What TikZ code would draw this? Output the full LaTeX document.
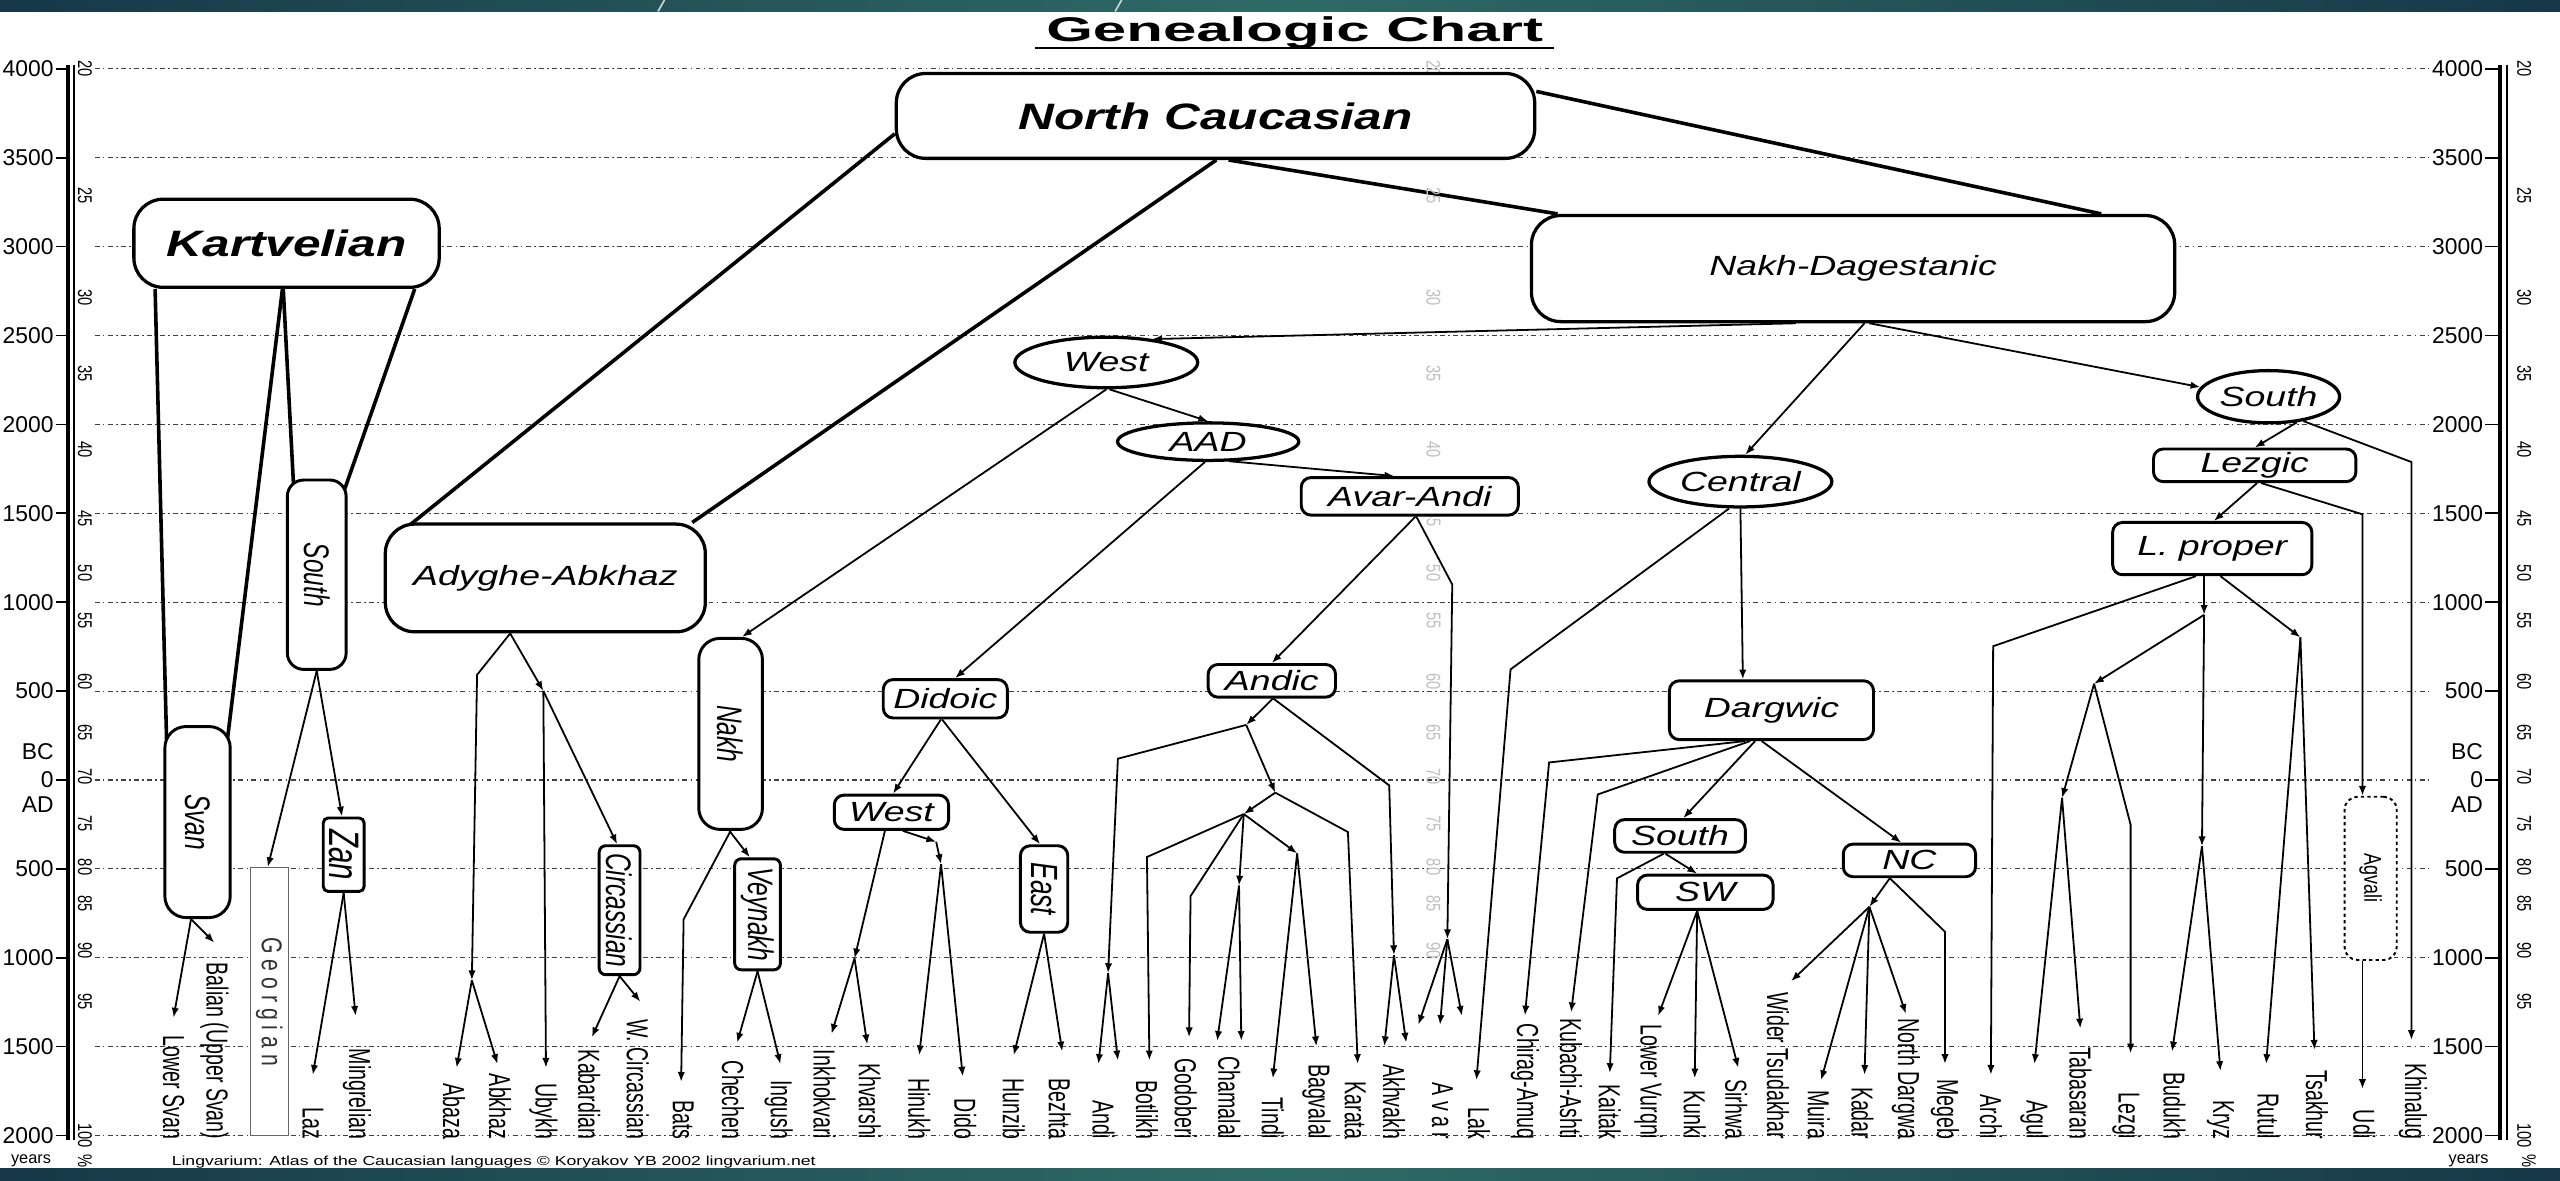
\documentclass[tikz,border=0pt]{standalone}
\usepackage{fontspec}
\usepackage{graphicx}
\setmainfont{Liberation Sans}
\newfontfamily\stf[FakeStretch=1.35]{Liberation Sans}
\newfontfamily\ttlf[FakeStretch=1.75]{Liberation Sans}
\usetikzlibrary{arrows.meta,calc,shapes.geometric}
\definecolor{barA}{HTML}{163848}
\definecolor{barB}{HTML}{2F6B66}
\newcommand{\myvt}[2]{\rotatebox{-90}{\scalebox{1}[1.45]{\itshape\fontsize{#1}{#1}\selectfont #2}}}
\newcommand{\mylbl}[1]{\rotatebox{-90}{\scalebox{1}[1.55]{\fontsize{12}{12}\selectfont #1}}}
\newcommand{\mypct}[1]{\rotatebox{-90}{\scalebox{1}[1.35]{\fontsize{9}{9}\selectfont #1}}}
\pgfdeclarelayer{backlayer}
\pgfdeclarelayer{gridlayer}
\pgfdeclarelayer{linklayer}
\pgfsetlayers{backlayer,gridlayer,linklayer,main}
\tikzset{
 bigbox/.style={draw, fill=white, line width=2pt, rounded corners=18pt, font=\stf\bfseries\itshape\fontsize{22.5}{26}\selectfont, inner sep=0pt},
 fambox/.style={draw, fill=white, line width=2pt, rounded corners=18pt, font=\stf\itshape\fontsize{17}{20}\selectfont, inner sep=0pt},
 grp/.style={draw, fill=white, line width=1.8pt, rounded corners=6pt, font=\stf\itshape\fontsize{17}{20}\selectfont, inner sep=0pt},
 grpell/.style={draw, fill=white, ellipse, line width=2pt, font=\stf\itshape\fontsize{17}{20}\selectfont, inner sep=0pt},
 vbox/.style={draw, fill=white, line width=1.8pt, rounded corners=12pt, inner sep=0pt},
 leaf/.style={anchor=south, inner sep=0pt},
 thicklink/.style={line width=2.2pt},
 arr/.style={line width=1.1pt, -{Latex[length=6pt,width=4.5pt]}},
 gridline/.style={line width=0.7pt, black!75, dash pattern=on 3pt off 2pt on 1pt off 2pt},
 axnum/.style={inner sep=0pt, font=\fontsize{14}{14}\selectfont},
}
\begin{document}
\begin{tikzpicture}[x=1pt,y=-1pt]
\useasboundingbox (0,0) rectangle (1568,723);
\begin{pgfonlayer}{backlayer}
\fill[white] (0,0) rectangle (1568,723);
\shade[left color=barA, right color=barA, middle color=barB] (0,0) rectangle (1568,7);
\shade[left color=barA, right color=barA, middle color=barB] (0,716) rectangle (1568,723);
\draw[white!75!barB, line width=1pt] (403,7) -- (407,0);
\draw[white!75!barB, line width=1pt] (683,7) -- (687,0);
\end{pgfonlayer}
% title
\node[anchor=base, inner sep=0pt, font=\ttlf\bfseries\fontsize{21}{24}\selectfont] (title) at (793,25.5) {Genealogic Chart};
\draw[line width=1.3pt] (634,29.5) -- (952,29.5);

% grid and axes
\begin{pgfonlayer}{gridlayer}
\foreach \k in {0,...,12} {
  \draw[gridline] (58,{42.2+54.44*\k}) -- (1488,{42.2+54.44*\k});
  \draw[line width=1pt] (34,{42.2+54.44*\k}) -- (41,{42.2+54.44*\k});
  \draw[line width=1pt] (1522,{42.2+54.44*\k}) -- (1531,{42.2+54.44*\k});
}
\end{pgfonlayer}
\foreach \lab [count=\k from 0] in {4000,3500,3000,2500,2000,1500,1000,500,0,500,1000,1500,2000} {
  \node[axnum, anchor=east] at (33,{42.2+54.44*\k}) {\lab};
  \node[axnum, anchor=east] at (1521,{42.2+54.44*\k}) {\lab};
}
\node[axnum, anchor=east] at (33,460.5) {BC};
\node[axnum, anchor=east] at (33,493) {AD};
\node[axnum, anchor=east] at (1521,460.5) {BC};
\node[axnum, anchor=east] at (1521,493) {AD};
\draw[line width=2.5pt] (41.5,40) -- (41.5,698);
\draw[line width=1.2pt] (45.5,40) -- (45.5,698);
\draw[line width=2.5pt] (1531.5,40) -- (1531.5,698);
\draw[line width=1.2pt] (1535.5,40) -- (1535.5,698);
\foreach \p/\yy in {20/42.2,25/120,30/182.2,35/228.9,40/275.5,45/317.7,50/351,55/380,60/417.7,65/448.8,70/475.5,75/504.4,80/531.1,85/553.3,90/582.2,95/613.3,100/695.5} {
  \node[inner sep=0pt] at (52,\yy) {\mypct{\p}};
  \node[inner sep=0pt] at (1546,\yy) {\mypct{\p}};
}
\foreach \p/\yy in {20/42.2,25/120,30/182.2,35/228.9,40/275.5,45/317.7,50/351,55/380,60/417.7,65/448.8,70/475.5,75/504.4,80/531.1,85/553.3,90/582.2} {
  \node[inner sep=0pt, text=black!25] at (878,\yy) {\mypct{\p}};
}
\node[inner sep=0pt, font=\fontsize{10}{10}\selectfont] at (19,711) {years};
\node[inner sep=0pt, font=\fontsize{10}{10}\selectfont] at (1512,711) {years};
\node[inner sep=0pt] at (52,711) {\mypct{\%}};
\node[inner sep=0pt] at (1549,711) {\mypct{\%}};
\node[anchor=base west, inner sep=0pt, font=\stf\fontsize{8}{9}\selectfont] (footer) at (105,714) {Lingvarium: Atlas of the Caucasian languages \textcopyright{} Koryakov YB 2002 lingvarium.net};

% family boxes
\node[bigbox, minimum width=391pt, minimum height=52pt] (nc) at (744.5,71) {North Caucasian};
\node[bigbox, minimum width=187pt, minimum height=54pt] (kart) at (175.5,149) {Kartvelian};
\node[fambox, minimum width=394pt, minimum height=65pt] (nd) at (1135,164.5) {Nakh-Dagestanic};
\node[fambox, minimum width=196pt, minimum height=66pt] (aa) at (334,354) {Adyghe-Abkhaz};
\node[grpell, minimum width=112pt, minimum height=31pt] (west) at (677.6,222) {West};
\node[grpell, minimum width=111pt, minimum height=23pt] (aad) at (740,270.5) {AAD};
\node[grp, minimum width=133pt, minimum height=23pt] (avarandi) at (863.5,304) {Avar-Andi};
\node[grp, minimum width=76pt, minimum height=23.5pt] (didoic) at (579,428) {Didoic};
\node[grp, minimum width=78pt, minimum height=20pt] (andic) at (779,417) {Andic};
\node[grpell, minimum width=112pt, minimum height=31pt] (central) at (1066,295) {Central};
\node[grpell, minimum width=87pt, minimum height=32pt] (south) at (1389.5,243) {South};
\node[grp, minimum width=124pt, minimum height=20pt] (lezgic) at (1381,285) {Lezgic};
\node[grp, minimum width=122pt, minimum height=32pt] (lproper) at (1355,336) {L. proper};
\node[grp, minimum width=125pt, minimum height=36pt] (dargwic) at (1085,435) {Dargwic};
\node[grp, minimum width=80pt, minimum height=20pt] (southtwo) at (1029,512) {South};
\node[grp, minimum width=83pt, minimum height=21pt] (sw) at (1044.5,546.5) {SW};
\node[grp, minimum width=81pt, minimum height=20pt] (nctwo) at (1169.5,527) {NC};
\node[grp, minimum width=70pt, minimum height=21pt] (westtwo) at (546,497.5) {West};
% vertical boxes
\node[vbox, minimum width=40pt, minimum height=117pt, rounded corners=13pt] (svan) at (121,503.5) {\myvt{15}{Svan}};
\node[vbox, minimum width=36pt, minimum height=116pt, rounded corners=10pt] (ksouth) at (194,352) {\myvt{15}{South}};
\node[draw=black!60, fill=white, line width=0.8pt, minimum width=23.5pt, minimum height=164pt, inner sep=0pt] (georgian) at (165,613.5) {\rotatebox{-90}{\scalebox{1}[1.35]{\fontsize{13}{13}\selectfont\color{black!80}G e o r g i a n}}};
\node[vbox, rounded corners=3pt, minimum width=25pt, minimum height=45pt] (zan) at (210.5,523.5) {\myvt{18}{Zan}};
\node[vbox, rounded corners=4pt, minimum width=25pt, minimum height=79pt] (circ) at (379.5,557.5) {\myvt{15}{Circassian}};
\node[vbox, minimum width=39pt, minimum height=117pt, rounded corners=13pt] (nakh) at (447.5,449.5) {\myvt{15}{Nakh}};
\node[vbox, rounded corners=4pt, minimum width=28pt, minimum height=68pt] (veynakh) at (464,560) {\myvt{15}{Veynakh}};
\node[vbox, rounded corners=6pt, minimum width=29pt, minimum height=53pt] (east) at (639.5,544.5) {\myvt{16}{East}};
\node[vbox, line width=1.2pt, dash pattern=on 2pt off 2pt, rounded corners=8pt, minimum width=32pt, minimum height=100pt] (agvali) at (1452,538) {\rotatebox{-90}{\scalebox{1}[1.35]{\fontsize{11}{11}\selectfont Agvali}}};

% leaf labels
\foreach \nm/\xx/\tx in {lowersvan/106.3/Lower Svan, balian/131.3/Balian (Upper Svan), laz/191.6/Laz, mingrelian/218.7/Mingrelian, abaza/278.1/Abaza, abkhaz/306.2/Abkhaz, ubykh/332.8/Ubykh, kabardian/360.9/Kabardian, wcirc/390.6/W. Circassian, bats/418.5/Bats, chechen/449/Chechen, ingush/477/Ingush, inkhokvari/505/Inkhokvari, khvarshi/532.7/Khvarshi, hinukh/563/Hinukh, dido/591.2/Dido, hunzib/620.9/Hunzib, bezhta/649/Bezhta, andi/675.8/Andi, botlikh/702.5/Botlikh, godoberi/726.2/Godoberi, chamalal/752.9/Chamalal, tindi/779.6/Tindi, bagvalal/806.3/Bagvalal, karata/830.1/Karata, akhvakh/853.8/Akhvakh, avar/883.5/A v a r, lak/905.8/Lak, chirag/934/Chirag-Amuq, kubachi/962.2/Kubachi-Ashti, kaitak/985.9/Kaitak, lowervurqni/1009.7/Lower Vurqni, kunki/1038/Kunki, sirhwa/1063.4/Sirhwa, wider/1089/Wider Tsudakhar, muira/1114/Muira, kadar/1140.7/Kadar, northdargwa/1167.4/North Dargwa, megeb/1191.3/Megeb, archi/1219.4/Archi, agul/1246.1/Agul, tabasaran/1274.2/Tabasaran, lezgi/1302.4/Lezgi, budukh/1331.9/Budukh, kryz/1360/Kryz, rutul/1389.5/Rutul, tsakhur/1419.1/Tsakhur, udi/1448/Udi, khinalug/1478/Khinalug} {
  \node[leaf] (\nm) at (\xx,698) {\mylbl{\tx}};
}

% tips and junctions
\foreach \nm/\xx/\yy in {lowersvan/106.3/623.3, balian/131.3/577.4, laz/191.6/658.3, mingrelian/217.8/622.2, abaza/279.7/654, abkhaz/304.7/651.7, ubykh/334.4/654, kabardian/362.5/635.3, wcirc/392.2/613.5, bats/417.2/662.6, chechen/451.5/638.6, ingush/478/651.7, inkhokvari/509.3/633.2, khvarshi/531.2/639.7, hinukh/563/646.3, dido/589.7/659.4, hunzib/620.9/646.3, bezhta/650.6/644, andia/672.8/651.7, andib/684.7/649.5, botlikh/704/649.5, godoberi/728.3/635.3, chamalala/745.5/637.5, chamalalb/760.3/637.5, tindi/779.6/660.5, bagvalal/806.3/640.8, karata/831.6/651.7, akhvakha/847.9/640.8, akhvakhb/861.3/638.6, avara/868.7/627.7, avarb/882/627.7, avarc/895.4/622.2, lak/904.3/661.6, chirag/934/622, kubachi/962.3/620, kaitak/986/657.2, lowervurqni/1015.6/622.2, kunki/1038/660.5, sirhwa/1064.7/654, wider/1097/601, muira/1115.4/661.6, kadar/1142/658.3, northdargwa/1167.4/621, megeb/1191.3/651.7, archi/1219.4/658.3, agul/1246.1/651.7, tabasaran/1274.2/629.9, lezgi/1305/645.2, budukh/1330.4/644, kryz/1360/656, rutul/1388/651.7, tsakhur/1417.6/643, udi/1447/667, khinalug/1477/637} {
  \coordinate (t-\nm) at (\xx,\yy);
}
\coordinate (jab) at (289,600.4);
\coordinate (abbend) at (292.2,413.3);
\coordinate (jub) at (332.8,423.2);
\coordinate (batsbend) at (418.7,563.1);
\coordinate (jk) at (523.4,587);
\coordinate (jhone) at (573.4,515.6);
\coordinate (jhtwo) at (576.4,529.3);
\coordinate (jone) at (763.3,444);
\coordinate (akbend) at (850.9,481.1);
\coordinate (jak) at (853.8,585);
\coordinate (anbend) at (684.7,464.7);
\coordinate (jan) at (678.7,596);
\coordinate (jtwo) at (781.1,485.5);
\coordinate (karbend) at (825.6,509.6);
\coordinate (jthree) at (761.8,498.6);
\coordinate (botbend) at (702.5,524.9);
\coordinate (godbend) at (729.2,548.9);
\coordinate (jch) at (758.9,542.4);
\coordinate (jtb) at (794.5,522.7);
\coordinate (avbend) at (889.5,358);
\coordinate (javar) at (886.5,575.2);
\coordinate (lakbend) at (925.2,410);
\coordinate (chbend) at (948.8,467);
\coordinate (kubend) at (978.6,486.6);
\coordinate (kaibend) at (990.4,538);
\coordinate (jf) at (1145,555.4);
\coordinate (megbend) at (1191.3,570.7);
\coordinate (archbend) at (1220.8,395.8);
\coordinate (ja) at (1350,376.6);
\coordinate (jb) at (1282.6,418.8);
\coordinate (jc) at (1348.7,518.3);
\coordinate (jd) at (1263,488.7);
\coordinate (lezbend) at (1305,505.2);
\coordinate (je) at (1409,390.4);
\coordinate (khbend) at (1477,283);
\coordinate (agbend) at (1447,315);

\begin{pgfonlayer}{linklayer}
% Kartvelian
\draw[thicklink] ($(kart.south west)+(14,0)$) -- ($(svan.north west)+(2,12)$);
\draw[thicklink] ($(kart.south)+(-2.5,0)$) -- ($(svan.north east)+(-3,12)$);
\draw[thicklink] ($(kart.south)+(-2,0)$) -- ($(ksouth.north west)+(5,10)$);
\draw[thicklink] ($(kart.south east)+(-16,0)$) -- ($(ksouth.north east)+(-3,10)$);
\draw[arr] ($(svan.south)+(-4,0)$) -- (t-lowersvan);
\draw[arr] ($(svan.south)+(-4,0)$) -- (t-balian);
\draw[arr] (ksouth.south) -- ($(georgian.north)+(-1,0)$);
\draw[arr] (ksouth.south) -- ($(zan.north)+(-1,0)$);
\draw[arr] (zan.south) -- (t-laz);
\draw[arr] (zan.south) -- (t-mingrelian);
% North Caucasian
\draw[thicklink] ($(nc.west)+(0,11)$) -- ($(aa.north west)+(13,4)$);
\draw[thicklink] ($(nc.south)+(0.5,0)$) -- ($(aa.north east)+(-9,0)$);
\draw[thicklink] ($(nc.south)+(8,0)$) -- ($(nd.north west)+(17,0)$);
\draw[thicklink] ($(nc.east)+(0,-15)$) -- ($(nd.north east)+(-46,0)$);
% Adyghe-Abkhaz
\draw[arr] ($(aa.south)+(-21.5,0)$) -- (abbend) -- (jab);
\draw[arr] ($(aa.south)+(-21.5,0)$) -- (jub);
\draw[arr] (jab) -- (t-abaza);
\draw[arr] (jab) -- (t-abkhaz);
\draw[arr] (jub) -- (t-ubykh);
\draw[arr] (jub) -- ($(circ.north)+(-1.5,0)$);
\draw[arr] (circ.south) -- (t-kabardian);
\draw[arr] (circ.south) -- (t-wcirc);
% Nakh-Dagestanic
\draw[arr] ($(nd.south)+(-35,0)$) -- ($(west.north)+(28,2.2)$);
\draw[arr] ($(nd.south)+(7,0)$) -- ($(central.north)+(3,0)$);
\draw[arr] ($(nd.south)+(10,0)$) -- (south.172);
% West
\draw[arr] ($(west.south)+(2,0)$) -- (aad.north);
\draw[arr] (west.south) -- ($(nakh.north)+(7,0)$);
\draw[arr] ($(nakh.south)+(-0.7,0)$) -- ($(veynakh.north)+(-4.7,0)$);
\draw[arr] (nakh.south) -- (batsbend) -- (t-bats);
\draw[arr] (veynakh.south) -- (t-chechen);
\draw[arr] (veynakh.south) -- (t-ingush);
\draw[arr] ($(aad.south)+(13,-0.5)$) -- ($(avarandi.north)+(-9.5,0)$);
\draw[arr] ($(aad.south)+(-2,0)$) -- ($(didoic.north)+(6,0)$);
% Didoic
\draw[arr] ($(didoic.south)+(-2.7,0)$) -- ($(westtwo.north)+(1,0)$);
\draw[arr] ($(didoic.south)+(-2,0)$) -- ($(east.north)+(-2.5,0)$);
\draw[arr] ($(westtwo.south)+(-4,0)$) -- (jk);
\draw[arr] (jk) -- (t-inkhokvari);
\draw[arr] (jk) -- (t-khvarshi);
\draw[arr] ($(westtwo.south)+(7,0)$) -- (jhone);
\draw[arr] (jhone) -- (jhtwo);
\draw[arr] (jhtwo) -- (t-hinukh);
\draw[arr] (jhtwo) -- (t-dido);
\draw[arr] (east.south) -- (t-hunzib);
\draw[arr] (east.south) -- (t-bezhta);
% Avar-Andi
\draw[arr] ($(avarandi.south)+(3.5,0)$) -- (andic.north);
\draw[arr] ($(avarandi.south)+(4,0)$) -- (avbend) -- (javar);
\draw[arr] (javar) -- (t-avara);
\draw[arr] (javar) -- (t-avarb);
\draw[arr] (javar) -- (t-avarc);
% Andic
\draw[arr] ($(andic.south)+(0.6,0)$) -- (jone);
\draw[arr] ($(andic.south)+(1,0)$) -- (akbend) -- (jak);
\draw[arr] (jak) -- (t-akhvakha);
\draw[arr] (jak) -- (t-akhvakhb);
\draw[arr] (jone) -- (anbend) -- (jan);
\draw[arr] (jan) -- (t-andia);
\draw[arr] (jan) -- (t-andib);
\draw[arr] (jone) -- (jtwo);
\draw[arr] (jtwo) -- (karbend) -- (t-karata);
\draw[arr] (jtwo) -- (jthree);
\draw[arr] (jthree) -- (botbend) -- (t-botlikh);
\draw[arr] (jthree) -- (godbend) -- (t-godoberi);
\draw[arr] (jthree) -- (jch);
\draw[arr] (jch) -- (t-chamalala);
\draw[arr] (jch) -- (t-chamalalb);
\draw[arr] (jthree) -- (jtb);
\draw[arr] (jtb) -- (t-tindi);
\draw[arr] (jtb) -- (t-bagvalal);
% Central
\draw[arr] ($(central.south)+(-7,0)$) -- (lakbend) -- (t-lak);
\draw[arr] (central.south) -- ($(dargwic.north)+(-17.5,0)$);
\draw[arr] ($(dargwic.south)+(-16,0)$) -- (chbend) -- (t-chirag);
\draw[arr] ($(dargwic.south)+(-13,0)$) -- (kubend) -- (t-kubachi);
\draw[arr] ($(dargwic.south)+(-10,0)$) -- ($(southtwo.north)+(2,0)$);
\draw[arr] ($(dargwic.south)+(-6,0)$) -- ($(nctwo.north)+(-5,0)$);
\draw[arr] ($(southtwo.south)+(-9,0)$) -- ($(sw.north)+(-5,0)$);
\draw[arr] ($(southtwo.south)+(-10,0)$) -- (kaibend) -- (t-kaitak);
\draw[arr] ($(sw.south)+(-5,0)$) -- (t-lowervurqni);
\draw[arr] ($(sw.south)+(-5,0)$) -- (t-kunki);
\draw[arr] ($(sw.south)+(-5,0)$) -- (t-sirhwa);
\draw[arr] ($(nctwo.south)+(-12,0)$) -- (jf);
\draw[arr] ($(nctwo.south)+(-12,0)$) -- (megbend) -- (t-megeb);
\draw[arr] (jf) -- (t-wider);
\draw[arr] (jf) -- (t-muira);
\draw[arr] (jf) -- (t-kadar);
\draw[arr] (jf) -- (t-northdargwa);
% South
\draw[arr] (south.-42) -- (lezgic.north);
\draw[arr] (south.-35) -- (khbend) -- (t-khinalug);
\draw[arr] ($(lezgic.south)+(1.4,0)$) -- ($(lproper.north)+(1,0)$);
\draw[arr] ($(lezgic.south)+(4,0)$) -- (agbend) -- ($(agvali.north)+(-5,0)$);
\draw[arr] ($(agvali.south)+(-5,0)$) -- (t-udi);
\draw[arr] ($(lproper.south)+(-5,0)$) -- (ja);
\draw[arr] ($(lproper.south)+(-10,0)$) -- (archbend) -- (t-archi);
\draw[arr] ($(lproper.south)+(5,0)$) -- (je);
\draw[arr] (ja) -- (jb);
\draw[arr] (ja) -- (jc);
\draw[arr] (jb) -- (jd);
\draw[arr] (jb) -- (lezbend) -- (t-lezgi);
\draw[arr] (jd) -- (t-agul);
\draw[arr] (jd) -- (t-tabasaran);
\draw[arr] (jc) -- (t-budukh);
\draw[arr] (jc) -- (t-kryz);
\draw[arr] (je) -- (t-rutul);
\draw[arr] (je) -- (t-tsakhur);
\end{pgfonlayer}
\end{tikzpicture}
\end{document}
